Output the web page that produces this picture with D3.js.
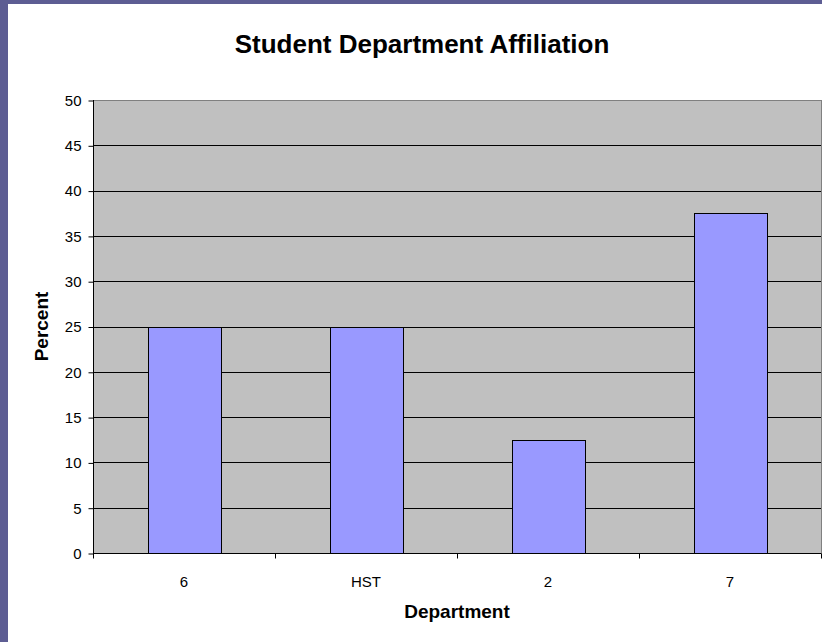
<!DOCTYPE html>
<html>
<head>
<meta charset="utf-8">
<script src="https://cdn.jsdelivr.net/npm/d3@7"></script>
<style>
  html, body { margin: 0; padding: 0; background: #5d5d93; }
  svg { display: block; }
  text { font-family: "Liberation Sans", Arial, sans-serif; fill: #000; }
</style>
</head>
<body>
<svg id="chart" width="822" height="642"></svg>
<script>
// Share of students by department affiliation
const departments = ["6", "HST", "2", "7"];
const percents = [25, 25, 12.5, 37.5];
const yTicks = [0, 5, 10, 15, 20, 25, 30, 35, 40, 45, 50];

const svg = d3.select("#chart");
const W = 822, H = 642;
const plot = { left: 93, top: 100, right: 821, bottom: 553 };

// slide background with white chart panel
svg.append("rect").attr("x", 0).attr("y", 0).attr("width", W).attr("height", H).attr("fill", "#5d5d93");
svg.append("rect").attr("x", 8).attr("y", 4).attr("width", W - 8).attr("height", H - 4).attr("fill", "#fff");

const x = d3.scaleBand().domain(departments).range([plot.left, plot.right]).paddingInner(0.6).paddingOuter(0.3);
const xGroup = d3.scaleBand().domain(departments).range([plot.left, plot.right]);
const y = d3.scaleLinear().domain([0, 50]).range([plot.bottom, plot.top]);

// plot area
svg.append("rect")
  .attr("x", plot.left).attr("y", plot.top)
  .attr("width", plot.right - plot.left).attr("height", plot.bottom - plot.top)
  .attr("fill", "#c0c0c0").attr("stroke", "#808080").attr("stroke-width", 1)
  .attr("shape-rendering", "crispEdges");

// gridlines
svg.append("g").selectAll("line").data(yTicks.filter(t => t > 0 && t < 50)).join("line")
  .attr("x1", plot.left).attr("x2", plot.right)
  .attr("y1", d => Math.round(y(d)) + 0.5).attr("y2", d => Math.round(y(d)) + 0.5)
  .attr("stroke", "#000").attr("stroke-width", 1);

// bars
svg.append("g").selectAll("rect").data(departments).join("rect")
  .attr("x", d => Math.round(x(d)) + 0.5)
  .attr("y", (d, i) => Math.round(y(percents[i])) + 0.5)
  .attr("width", Math.round(x.bandwidth()))
  .attr("height", (d, i) => Math.round(y(0)) - Math.round(y(percents[i])))
  .attr("fill", "#9999ff").attr("stroke", "#000").attr("stroke-width", 1);

// y axis
const yAxis = d3.axisLeft(y).tickValues(yTicks).tickSize(5).tickPadding(7);
const gy = svg.append("g").attr("transform", `translate(${plot.left + 0.5},0.5)`).call(yAxis);
gy.select(".domain").attr("stroke", "#000").attr("d", `M0,${plot.top - 0.5}V${plot.bottom}`);
gy.selectAll(".tick line").attr("stroke", "#000");
gy.selectAll(".tick text").attr("font-size", 15).attr("font-family", '"Liberation Sans", Arial, sans-serif').attr("fill", "#000");

// x axis: category boundaries carry the tick marks
const gx = svg.append("g").attr("transform", `translate(0,${plot.bottom + 0.5})`);
gx.append("line").attr("x1", plot.left).attr("x2", plot.right).attr("stroke", "#000");
const bounds = departments.map(d => xGroup(d)).concat([plot.right]);
gx.selectAll("line.tick").data(bounds).join("line").attr("class", "tick")
  .attr("x1", d => Math.round(d) + 0.5).attr("x2", d => Math.round(d) + 0.5)
  .attr("y1", 0).attr("y2", 5).attr("stroke", "#000");
gx.selectAll("text").data(departments).join("text")
  .attr("x", d => xGroup(d) + xGroup.bandwidth() / 2)
  .attr("y", 33)
  .attr("text-anchor", "middle")
  .attr("font-size", 15)
  .text(d => d);

// titles
svg.append("text").attr("x", 422).attr("y", 53).attr("text-anchor", "middle")
  .attr("font-size", 26).attr("font-weight", "bold").text("Student Department Affiliation");
svg.append("text").attr("x", (plot.left + plot.right) / 2).attr("y", 618).attr("text-anchor", "middle")
  .attr("font-size", 19).attr("font-weight", "bold").text("Department");
svg.append("text").attr("transform", `translate(48,${(plot.top + plot.bottom) / 2}) rotate(-90)`)
  .attr("text-anchor", "middle").attr("font-size", 19).attr("font-weight", "bold").text("Percent");
</script>
</body>
</html>
